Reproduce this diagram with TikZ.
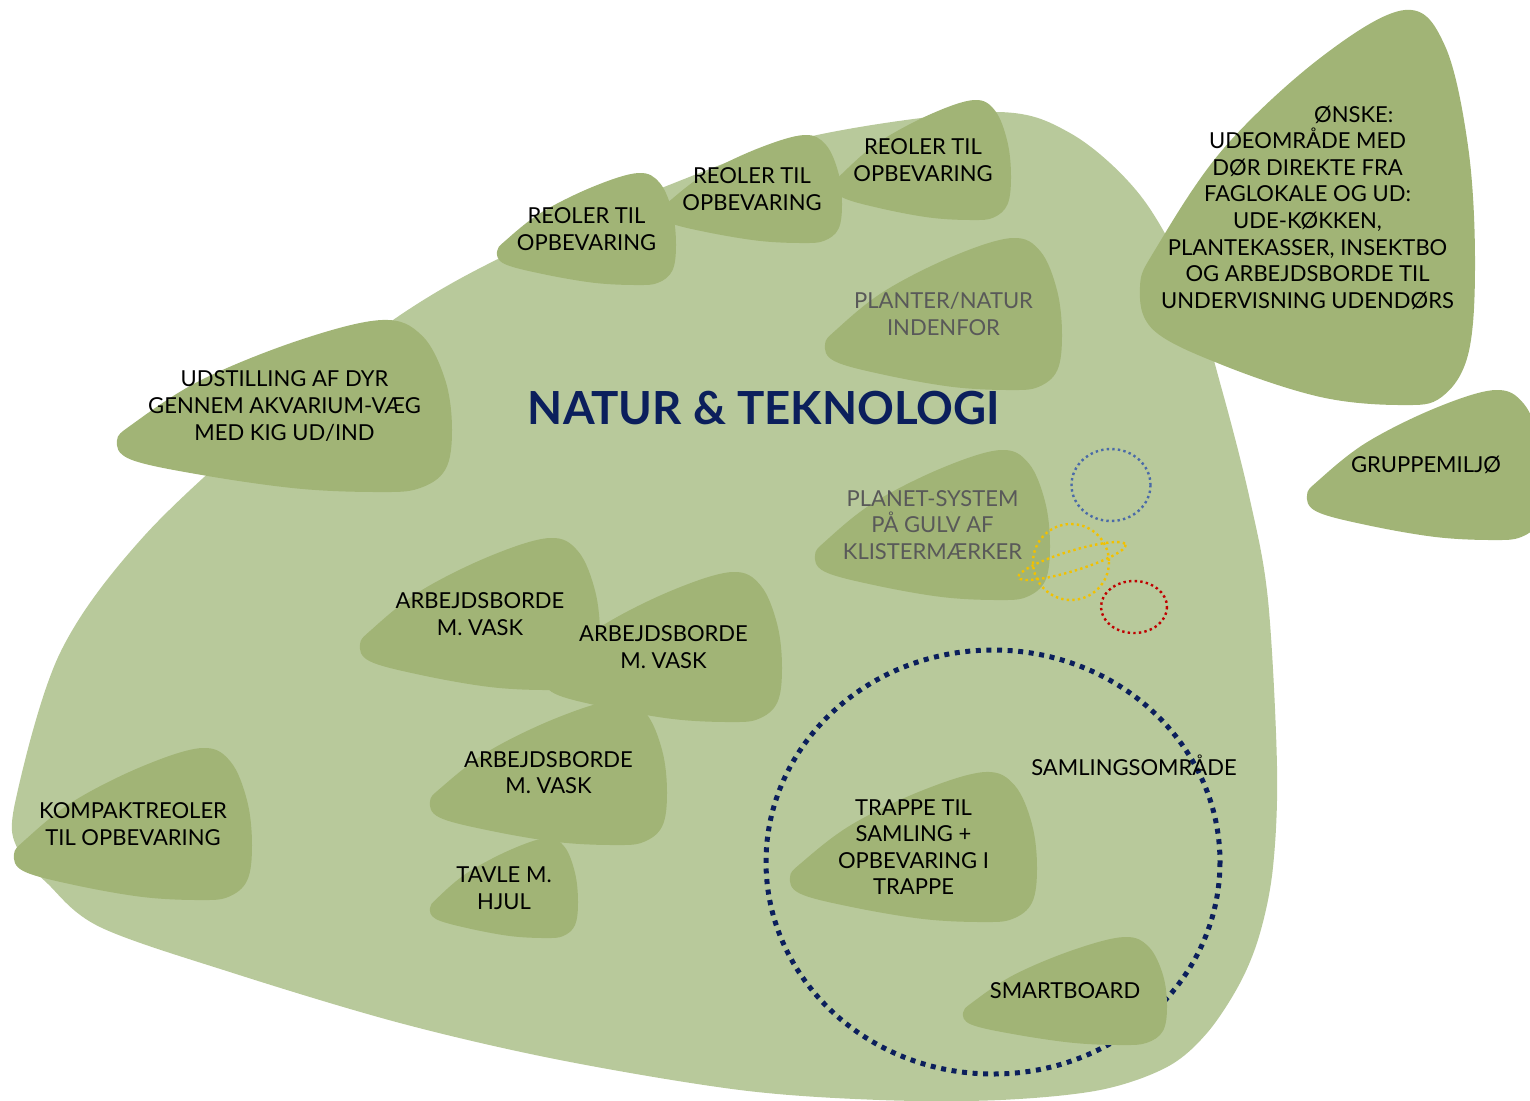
\documentclass[tikz,border=0pt]{standalone}
\usepackage{fontspec}
\setmainfont{Lato}
\definecolor{bigblob}{HTML}{B8C99B}
\definecolor{smallblob}{HTML}{A1B476}
\definecolor{navy}{HTML}{0B1F5C}
\definecolor{greytext}{HTML}{595959}
\definecolor{planetblue}{HTML}{4A6AA8}
\definecolor{planetred}{HTML}{C00000}
\definecolor{planetyellow}{HTML}{F2C100}

\begin{document}
\begin{tikzpicture}[x=0.5pt,y=-0.5pt,
    lbl/.style={align=center,inner sep=0pt,font=\fontsize{11}{13.3}\selectfont},
    planet/.style={line width=1.2pt,dash pattern=on 1.2pt off 1.6pt}]
    \path[use as bounding box,clip] (0,0) rectangle (1530,1100);
    % faglokalet
    \fill[bigblob] plot[smooth cycle,tension=0.55] coordinates {
      (990,112) (1070,133) (1140,195) (1190,285) (1222,390) (1250,500)
      (1268,600) (1277,767) (1273,867) (1260,933) (1240,983) (1207,1033)
      (1167,1067) (1100,1090) (1000,1100) (880,1100) (740,1090) (560,1060)
      (400,1023) (233,973) (100,927) (47,883) (18,850) (15,803)
      (60,653) (145,535) (280,410) (393,320) (500,258) (664,187) (808,137)};
    % samlingsomraade
    \draw[navy,line width=2.5pt,dash pattern=on 2.5pt off 2.8pt]
      (993,862) ellipse [x radius=227,y radius=212];
    \foreach \x/\y/\w/\h/\n/\c/\t in {
      117/320/335/172/dyr/black/{UDSTILLING AF DYR\\GENNEM AKVARIUM-VÆG\\MED KIG UD/IND},
      497/173/179/112/reolerA/black/{REOLER TIL\\OPBEVARING},
      662/135/180/108/reolerB/black/{REOLER TIL\\OPBEVARING},
      835/100/176/120/reolerC/black/{REOLER TIL\\OPBEVARING},
      825/238/237/152/planter/greytext/{PLANTER/NATUR\\INDENFOR},
      1140/10/335/395/oenske/black/{\hspace*{4.2em}ØNSKE:\\UDEOMRÅDE MED\\DØR DIREKTE FRA\\FAGLOKALE OG UD:\\UDE-KØKKEN,\\PLANTEKASSER, INSEKTBO\\OG ARBEJDSBORDE TIL\\UNDERVISNING UDENDØRS},
      1307/390/238/150/gruppe/black/{GRUPPEMILJØ},
      815/450/235/150/planet/greytext/{PLANET-SYSTEM\\PÅ GULV AF\\KLISTERMÆRKER},
      360/538/240/152/vaskA/black/{ARBEJDSBORDE\\M. VASK},
      545/572/237/150/vaskB/black/{ARBEJDSBORDE\\M. VASK},
      430/700/237/145/vaskC/black/{ARBEJDSBORDE\\M. VASK},
      430/838/148/100/tavle/black/{TAVLE M.\\HJUL},
      14/748/238/152/kompakt/black/{KOMPAKTREOLER\\TIL OPBEVARING},
      790/772/247/150/trappe/black/{TRAPPE TIL\\SAMLING +\\OPBEVARING I\\TRAPPE},
      963/937/204/108/smartboard/black/{SMARTBOARD}}{
      \begin{scope}[shift={(\x,\y)},xscale=\w,yscale=\h]
        \fill[smallblob] plot[smooth cycle,tension=0.6] coordinates {
          (0.79,0) (0.91,0.09) (0.98,0.35) (1,0.64) (0.98,0.87) (0.9,0.98)
          (0.78,1) (0.54,0.98) (0.25,0.9) (0.04,0.81) (0,0.7) (0.05,0.6)
          (0.25,0.35) (0.54,0.12)};
        \node[lbl,text=\c] (\n) at (0.5,0.5) {\t};
      \end{scope}
    }
    % planeter
    \draw[planet,planetblue] (1111,485) ellipse [x radius=39.5,y radius=36];
    \draw[planet,planetred] (1134,607) ellipse [x radius=33,y radius=26];
    \draw[planet,planetyellow] (1071,562) circle [radius=38];
    \draw[planet,planetyellow] (1072,561) ellipse [x radius=56,y radius=10,rotate=17];
    \node[lbl] (samling) at (1134,765) {SAMLINGSOMRÅDE};
    \node[text=navy,inner sep=0pt,font=\fontsize{22.8}{22.8}\bfseries\selectfont]
      (titel) at (764,408) {NATUR \& TEKNOLOGI};
  \end{tikzpicture}
\end{document}
